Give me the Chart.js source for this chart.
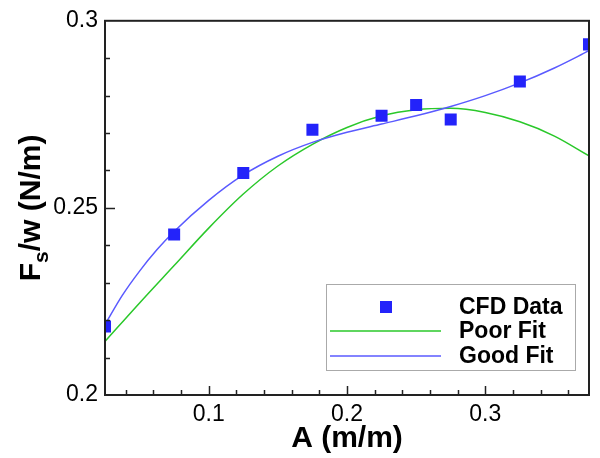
<!DOCTYPE html>
<html>
<head>
<meta charset="utf-8">
<script src="https://cdn.jsdelivr.net/npm/chart.js@4.4.1/dist/chart.umd.min.js"></script>
<style>
  html, body { margin: 0; padding: 0; background: #fff; }
  #wrap { width: 600px; height: 458px; }
</style>
</head>
<body>
<div id="wrap"><canvas id="c"></canvas></div>
<script>
// CFD samples
const cfdA = [0.025, 0.075, 0.125, 0.175, 0.225, 0.25, 0.275, 0.325, 0.375];
const cfdF = [0.2183, 0.2429, 0.2593, 0.2709, 0.2746, 0.2775, 0.2736, 0.2838, 0.2937];

// fitted curves
const poorA = [0.025, 0.05, 0.075, 0.1, 0.125, 0.15, 0.175, 0.2, 0.225, 0.25, 0.275, 0.3, 0.325, 0.35, 0.375];
const poorFit = [0.2143, 0.2246, 0.2346, 0.2446, 0.2537, 0.2612, 0.2670, 0.2715, 0.2746, 0.2762, 0.2766, 0.2755, 0.2730, 0.2692, 0.2639];
const goodA = [0.025, 0.0375, 0.05, 0.0625, 0.075, 0.1, 0.125, 0.15, 0.175, 0.2, 0.225, 0.25, 0.275, 0.3, 0.325, 0.35, 0.375];
const goodFit = [0.2188, 0.2266, 0.2331, 0.2388, 0.2437, 0.2520, 0.2588, 0.2638, 0.2675, 0.2702, 0.2724, 0.2746, 0.2771, 0.2800, 0.2834, 0.2874, 0.2920];

const xTicks = [0.1, 0.2, 0.3];
const yTicks = [0.2, 0.25, 0.3];
const legendLabels = ['CFD Data', 'Poor Fit', 'Good Fit'];

const BLUE_PT = '#2323fa';
const GREEN = '#2ac82a';
const BLUE_LN = '#5a5aff';
const FONT = '"Liberation Sans", Arial, Helvetica, sans-serif';

function pts(xs, ys) {
    return xs.map((x, i) => ({ x, y: ys[i] }));
}

// inward ticks, frame, axis titles and legend
const decor = {
    id: 'decor',
    afterDatasetsDraw(chart) {
        const { ctx, chartArea: a, scales } = chart;
        const xs = scales.x, ys = scales.y;
        ctx.save();
        ctx.strokeStyle = '#222';
        ctx.lineWidth = 1.5;

        // x ticks
        for (let v = 0.04; v < 0.375; v += 0.02) {
            const px = Math.round(xs.getPixelForValue(v)) + 0.5;
            const major = xTicks.some(t => Math.abs(t - v) < 1e-6);
            ctx.beginPath();
            ctx.moveTo(px, a.bottom);
            ctx.lineTo(px, a.bottom - (major ? 9 : 5));
            ctx.stroke();
        }
        // y ticks
        for (let v = 0.21; v < 0.3; v += 0.01) {
            const py = Math.round(ys.getPixelForValue(v)) + 0.5;
            const major = yTicks.some(t => Math.abs(t - v) < 1e-6);
            ctx.beginPath();
            ctx.moveTo(a.left, py);
            ctx.lineTo(a.left + (major ? 10 : 5), py);
            ctx.stroke();
        }

        // frame
        ctx.lineWidth = 2;
        ctx.strokeStyle = '#222';
        ctx.strokeRect(a.left, a.top, a.right - a.left, a.bottom - a.top);

        // x title
        ctx.fillStyle = '#000';
        ctx.font = 'bold 30px ' + FONT;
        ctx.textAlign = 'center';
        ctx.textBaseline = 'alphabetic';
        ctx.fillText('A (m/m)', (a.left + a.right) / 2, 447);

        // y title with subscript
        const big = 'bold 30px ' + FONT, small = 'bold 21px ' + FONT;
        const parts = [['F', big, 0], ['s', small, 8], ['/w (N/m)', big, 0]];
        let total = 0;
        parts.forEach(p => { ctx.font = p[1]; total += ctx.measureText(p[0]).width; });
        ctx.save();
        ctx.translate(40, (a.top + a.bottom) / 2);
        ctx.rotate(-Math.PI / 2);
        ctx.textAlign = 'left';
        let cx = -total / 2;
        parts.forEach(p => {
            ctx.font = p[1];
            ctx.fillText(p[0], cx, p[2]);
            cx += ctx.measureText(p[0]).width;
        });
        ctx.restore();

        // legend box
        const lx = 326, ly = 284, lw = 249, lh = 86;
        ctx.fillStyle = '#fff';
        ctx.fillRect(lx, ly, lw, lh);
        ctx.lineWidth = 1;
        ctx.strokeStyle = '#aaa';
        ctx.strokeRect(lx + 0.5, ly + 0.5, lw, lh);

        const rows = [307, 331, 356];
        ctx.fillStyle = BLUE_PT;
        ctx.fillRect(380, rows[0] - 6, 12, 12);
        ctx.lineWidth = 1.5;
        ctx.strokeStyle = GREEN;
        ctx.beginPath(); ctx.moveTo(330, rows[1]); ctx.lineTo(441, rows[1]); ctx.stroke();
        ctx.strokeStyle = BLUE_LN;
        ctx.beginPath(); ctx.moveTo(330, rows[2]); ctx.lineTo(441, rows[2]); ctx.stroke();

        ctx.fillStyle = '#000';
        ctx.font = 'bold 23px ' + FONT;
        ctx.textAlign = 'left';
        ctx.textBaseline = 'middle';
        legendLabels.forEach((t, i) => ctx.fillText(t, 459, rows[i] + 1));
        ctx.restore();
    }
};

new Chart(document.getElementById('c'), {
    type: 'scatter',
    data: {
        datasets: [
            {
                label: legendLabels[0],
                data: pts(cfdA, cfdF),
                pointStyle: 'rect',
                pointRadius: 8.5,
                pointHoverRadius: 8.5,
                backgroundColor: BLUE_PT,
                borderColor: BLUE_PT,
                borderWidth: 0,
                showLine: false
            },
            {
                label: legendLabels[2],
                data: pts(goodA, goodFit),
                showLine: true,
                borderColor: BLUE_LN,
                borderWidth: 1.5,
                pointRadius: 0,
                cubicInterpolationMode: 'monotone',
                fill: false
            },
            {
                label: legendLabels[1],
                data: pts(poorA, poorFit),
                showLine: true,
                borderColor: GREEN,
                borderWidth: 1.5,
                pointRadius: 0,
                cubicInterpolationMode: 'monotone',
                fill: false
            }
        ]
    },
    options: {
        responsive: true,
        maintainAspectRatio: false,
        animation: false,
        layout: { padding: { top: 17, right: 11, left: 0, bottom: 0 } },
        plugins: { legend: { display: false }, tooltip: { enabled: false } },
        scales: {
            x: {
                type: 'linear',
                min: 0.025,
                max: 0.375,
                afterBuildTicks: s => { s.ticks = xTicks.map(v => ({ value: v })); },
                afterFit: s => { s.height = 63; },
                grid: { display: false, drawTicks: false },
                border: { display: false },
                ticks: { color: '#000', font: { family: FONT, size: 23 }, padding: 6, callback: v => String(v) }
            },
            y: {
                type: 'linear',
                min: 0.2,
                max: 0.3,
                afterBuildTicks: s => { s.ticks = yTicks.map(v => ({ value: v })); },
                afterFit: s => { s.width = 105; },
                grid: { display: false, drawTicks: false },
                border: { display: false },
                ticks: { color: '#000', font: { family: FONT, size: 23 }, padding: 7, callback: v => String(v) }
            }
        }
    },
    plugins: [decor]
});
</script>
</body>
</html>
